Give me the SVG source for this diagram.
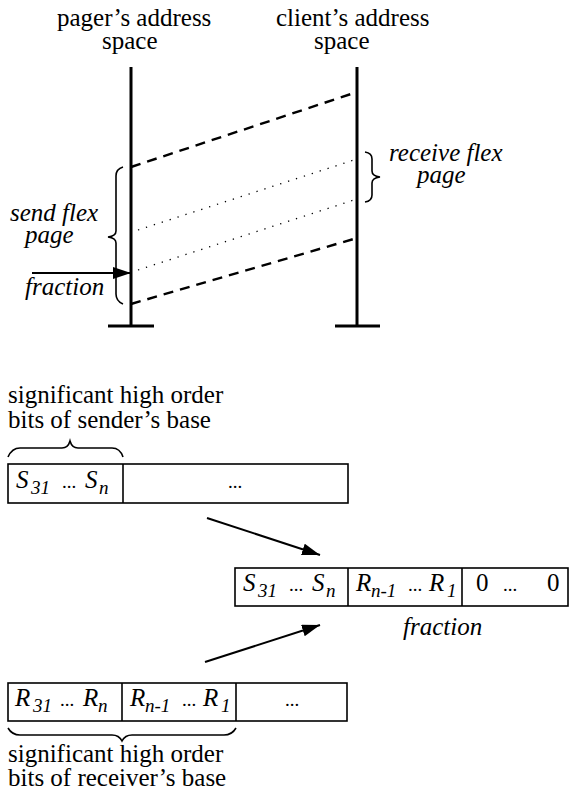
<svg xmlns="http://www.w3.org/2000/svg" width="577" height="798" viewBox="0 0 577 798">
<defs>
<marker id="ah" markerUnits="userSpaceOnUse" markerWidth="20" markerHeight="14" refX="18" refY="6" orient="auto">
<path d="M0,0 L18,6 L0,12 z" fill="#000"/>
</marker>
<style>
text{font-family:"Liberation Serif","DejaVu Serif",serif;fill:#000;font-size:25px}
.it{font-style:italic}
.sub{font-style:italic;font-size:19px}
.dots{font-size:19px}
.axis{stroke:#000;stroke-width:3;fill:none}
.dash{stroke:#000;stroke-width:2.4;stroke-dasharray:10 7;fill:none}
.dot{stroke:#000;stroke-width:1.3;stroke-dasharray:1.3 7;fill:none}
.brace{stroke:#000;stroke-width:1.6;fill:none}
.box{stroke:#000;stroke-width:1.6;fill:#fff}
.arrow{stroke:#000;stroke-width:2;fill:none;marker-end:url(#ah)}
</style>
</defs>
<rect width="577" height="798" fill="#fff"/>

<g id="pager-space">
<text x="57" y="26">pager’s address</text>
<text x="102" y="49">space</text>
<line class="axis" x1="131" y1="67" x2="131" y2="326"/>
<line class="axis" x1="108" y1="326" x2="154" y2="326"/>
</g>

<g id="client-space">
<text x="276" y="26">client’s address</text>
<text x="314" y="49">space</text>
<line class="axis" x1="357" y1="67" x2="357" y2="326"/>
<line class="axis" x1="335" y1="326" x2="380" y2="326"/>
</g>

<g id="send-flex-page">
<path class="brace" d="M123,167 Q116,169 116,176 L116,231 Q116,236 108,237 Q116,238 116,243 L116,294 Q116,301 123,304"/>
<text class="it" x="10" y="221">send flex</text>
<text class="it" x="25" y="243">page</text>
<text class="it" x="25" y="295">fraction</text>
</g>

<g id="receive-flex-page">
<path class="brace" d="M365,152 Q372,153 372,159 L372,171 Q372,176 380,177 Q372,178 372,183 L372,195 Q372,201 365,202"/>
<text class="it" x="389" y="161">receive flex</text>
<text class="it" x="417" y="183">page</text>
</g>

<g id="sender-base">
<text x="8" y="403">significant high order</text>
<text x="8" y="428">bits of sender’s base</text>
<path class="brace" d="M8,457 Q12,448 20,448 L62,448 Q68,448 70,441 Q72,448 78,448 L112,448 Q120,448 123,457"/>
<rect class="box" x="8" y="464" width="340" height="39"/>
<line class="box" x1="123" y1="464" x2="123" y2="503"/>
<text class="it" x="16" y="488">S</text><text class="sub" x="31" y="494">31</text>
<text class="dots" x="62" y="488">...</text>
<text class="it" x="85" y="488">S</text><text class="sub" x="99" y="494">n</text>
<text class="dots" x="228" y="488">...</text>
</g>

<g id="result">
<rect class="box" x="235" y="568" width="333" height="38"/>
<line class="box" x1="348" y1="568" x2="348" y2="606"/>
<line class="box" x1="462" y1="568" x2="462" y2="606"/>
<text class="it" x="243" y="591">S</text><text class="sub" x="258" y="597">31</text>
<text class="dots" x="289" y="591">...</text>
<text class="it" x="312" y="591">S</text><text class="sub" x="326" y="597">n</text>
<text class="it" x="356" y="591">R</text><text class="sub" x="371" y="597">n-1</text>
<text class="dots" x="408" y="591">...</text>
<text class="it" x="429" y="591">R</text><text class="sub" x="447" y="597">1</text>
<text x="476" y="591">0</text>
<text class="dots" x="503" y="591">...</text>
<text x="547" y="591">0</text>
<text class="it" x="403" y="635">fraction</text>
</g>

<g id="receiver-base">
<rect class="box" x="8" y="683" width="339" height="38"/>
<line class="box" x1="122" y1="683" x2="122" y2="721"/>
<line class="box" x1="236" y1="683" x2="236" y2="721"/>
<text class="it" x="15" y="706">R</text><text class="sub" x="33" y="712">31</text>
<text class="dots" x="60" y="706">...</text>
<text class="it" x="83" y="706">R</text><text class="sub" x="98" y="712">n</text>
<text class="it" x="130" y="706">R</text><text class="sub" x="145" y="712">n-1</text>
<text class="dots" x="182" y="706">...</text>
<text class="it" x="203" y="706">R</text><text class="sub" x="221" y="712">1</text>
<text class="dots" x="285" y="706">...</text>
<path class="brace" d="M8,728 Q12,735 20,735 L112,735 Q119,735 122,741 Q125,735 132,735 L224,735 Q232,735 236,728"/>
<text x="8" y="762">significant high order</text>
<text x="8" y="786">bits of receiver’s base</text>
</g>

<g id="connectors">
<line class="dash" x1="131" y1="167" x2="357" y2="92"/>
<line class="dash" x1="131" y1="304" x2="357" y2="238"/>
<line class="dot" x1="138" y1="230" x2="357" y2="159"/>
<line class="dot" x1="138" y1="270" x2="357" y2="199"/>
<line class="arrow" x1="32" y1="273" x2="131" y2="273"/>
<line class="arrow" x1="207" y1="518" x2="320" y2="555"/>
<line class="arrow" x1="205" y1="662" x2="320" y2="625"/>
</g>
</svg>
